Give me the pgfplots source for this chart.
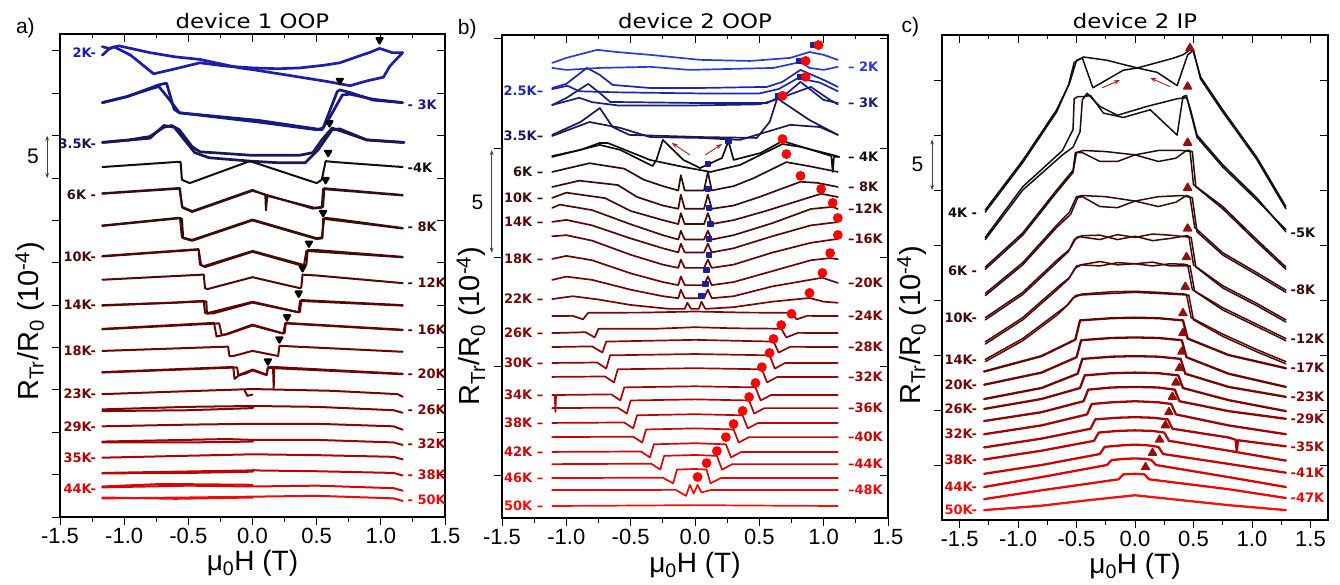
\documentclass[border=0pt]{standalone}
\usepackage{fontspec}
\setmainfont{Liberation Sans}
\newfontfamily\dv{DejaVu Sans}
\usepackage{graphicx}
\usepackage{pgfplots}
\pgfplotsset{compat=1.18}
\usetikzlibrary{arrows.meta}

% colours, cold (blue) to hot (red)
\definecolor{a2}{RGB}{30,30,170}\definecolor{a3}{RGB}{25,25,130}\definecolor{a35}{RGB}{25,25,90}
\definecolor{a4}{RGB}{15,15,15}\definecolor{a6}{RGB}{50,15,15}\definecolor{a8}{RGB}{60,12,12}
\definecolor{a10}{RGB}{72,10,10}\definecolor{a12}{RGB}{80,8,8}\definecolor{a14}{RGB}{90,6,6}
\definecolor{a16}{RGB}{98,5,5}\definecolor{a18}{RGB}{104,5,5}\definecolor{a20}{RGB}{110,5,5}
\definecolor{a23}{RGB}{118,5,5}\definecolor{a26}{RGB}{128,5,5}\definecolor{a29}{RGB}{140,5,5}
\definecolor{a32}{RGB}{155,5,5}\definecolor{a35r}{RGB}{170,5,5}\definecolor{a38}{RGB}{190,5,5}
\definecolor{a44}{RGB}{215,5,5}\definecolor{a50}{RGB}{238,10,10}

\definecolor{b2}{RGB}{40,60,220}\definecolor{b25}{RGB}{30,40,165}\definecolor{b3}{RGB}{25,30,125}
\definecolor{b35}{RGB}{25,25,85}\definecolor{b4}{RGB}{15,15,15}\definecolor{b6}{RGB}{45,15,15}
\definecolor{b8}{RGB}{58,12,12}\definecolor{b10}{RGB}{70,10,10}\definecolor{b12}{RGB}{80,8,8}
\definecolor{b14}{RGB}{90,6,6}\definecolor{b16}{RGB}{98,5,5}\definecolor{b18}{RGB}{105,5,5}
\definecolor{b20}{RGB}{112,5,5}\definecolor{b22}{RGB}{118,5,5}\definecolor{b24}{RGB}{125,5,5}
\definecolor{b26}{RGB}{132,5,5}\definecolor{b28}{RGB}{140,5,5}\definecolor{b30}{RGB}{148,5,5}
\definecolor{b32}{RGB}{156,5,5}\definecolor{b34}{RGB}{166,5,5}\definecolor{b36}{RGB}{176,5,5}
\definecolor{b38}{RGB}{188,5,5}\definecolor{b40}{RGB}{198,5,5}\definecolor{b42}{RGB}{210,5,5}
\definecolor{b44}{RGB}{220,5,5}\definecolor{b46}{RGB}{230,8,8}\definecolor{b48}{RGB}{238,10,10}
\definecolor{b50}{RGB}{246,15,15}

\definecolor{c4}{RGB}{15,15,15}\definecolor{c5}{RGB}{25,12,12}\definecolor{c6}{RGB}{40,10,10}
\definecolor{c8}{RGB}{52,10,10}\definecolor{c10}{RGB}{65,8,8}\definecolor{c12}{RGB}{75,8,8}
\definecolor{c14}{RGB}{88,6,6}\definecolor{c17}{RGB}{100,5,5}\definecolor{c20}{RGB}{110,5,5}
\definecolor{c23}{RGB}{120,5,5}\definecolor{c26}{RGB}{130,5,5}\definecolor{c29}{RGB}{140,5,5}
\definecolor{c32}{RGB}{155,5,5}\definecolor{c35}{RGB}{170,5,5}\definecolor{c38}{RGB}{185,5,5}
\definecolor{c41}{RGB}{200,5,5}\definecolor{c44}{RGB}{215,5,5}\definecolor{c47}{RGB}{232,8,8}
\definecolor{c50}{RGB}{245,15,15}
\definecolor{mk}{RGB}{150,15,15}\definecolor{sq}{RGB}{30,30,150}\definecolor{arr}{RGB}{185,25,25}

\newcommand{\tlf}{\dv\bfseries\fontsize{13}{13}\selectfont}
\newcommand{\lft}[4]{\node[anchor=east,text=#2,font=\tlf,inner sep=1pt] at (axis cs:#1,#3) {#4};}
\newcommand{\rgt}[4]{\node[anchor=west,text=#2,font=\tlf,inner sep=1pt] at (axis cs:#1,#3) {#4};}
\newcommand{\ylab}{R\textsubscript{Tr}/R\textsubscript{0} (10\textsuperscript{-4})}
\newcommand{\ttl}[1]{\scalebox{1.14}[1]{\dv\fontsize{20}{20}\selectfont #1}}

\pgfplotsset{
  base/.style={scale only axis, clip=false,
    axis line style={line width=1.1pt},
    every tick/.style={line width=0.9pt, black},
    major tick length=8pt, minor tick length=4.5pt,
    xtick={-1.5,-1,-0.5,0,0.5,1,1.5}, minor x tick num=1,
    xticklabels={-1.5,-1.0,-0.5,0.0,0.5,1.0,1.5},
    yticklabels={},
    tick label style={font=\fontsize{22}{22}\selectfont},
    every axis plot/.append style={line width=2.0pt, line join=round, line cap=round},
  },
  front/.style={base, xtick pos=left, ytick pos=left, tick align=outside},
  back/.style={base, xtick pos=right, ytick pos=right, tick align=inside, xticklabels={}},
}

\begin{document}
\begin{tikzpicture}
\useasboundingbox (-60pt,-67pt) rectangle (1280pt,517pt);

%% ---------------- panel a ----------------
\begin{axis}[back, at={(0pt,0pt)}, anchor=south west, width=385pt, height=483pt,
  xmin=-1.5, xmax=1.5, ymin=0, ymax=57, ytick={0,5,...,55}]
\end{axis}
\begin{axis}[front, at={(0pt,0pt)}, anchor=south west, width=385pt, height=483pt,
  xmin=-1.5, xmax=1.5, ymin=0, ymax=57, ytick={0,5,...,55}]
\addplot[a2, line width=2.7pt] coordinates {(-1.17,54.5) (-1.12,55.2) (-1.08,55.5) (-0.95,54.5) (-0.77,52.3) (-0.60,52.9) (-0.41,53.6) (-0.2,53.2) (0.0,53.0) (0.2,52.9) (0.37,53.0) (0.55,53.3) (0.68,53.6) (0.85,54.5) (0.91,54.8) (0.99,55.3) (1.09,54.8) (1.17,54.8)};
\addplot[a2, line width=2.7pt] coordinates {(1.17,54.8) (1.07,53.2) (1.02,51.9) (0.90,51.5) (0.76,50.9) (0.58,51.4) (0.29,52.1) (0.0,52.8) (-0.10,53.0) (-0.41,54.0) (-0.6,54.3) (-0.80,54.8) (-1.04,55.6) (-1.12,55.3) (-1.17,55.5)};
\addplot[a3, line width=2.7pt] coordinates {(-1.17,48.9) (-0.98,49.6) (-0.80,50.6) (-0.73,51.0) (-0.67,51.2) (-0.61,48.1) (-0.57,47.7) (0.05,46.6) (0.50,45.7) (0.55,45.9) (0.66,50.2) (0.68,50.4) (0.76,50.1) (0.94,49.2) (1.17,48.9)};
\addplot[a3, line width=2.7pt] coordinates {(1.17,48.9) (0.94,49.3) (0.76,49.9) (0.70,49.8) (0.60,47.1) (0.54,45.7) (0.05,46.8) (-0.57,47.7) (-0.66,49.5) (-0.73,50.8) (-0.80,50.5) (-0.98,49.6) (-1.17,48.9)};
\addplot[a35, line width=2.7pt] coordinates {(-1.17,44.2) (-0.96,44.5) (-0.80,44.9) (-0.69,46.0) (-0.63,46.2) (-0.57,45.7) (-0.47,43.7) (-0.41,43.1) (-0.02,42.7) (0.37,42.7) (0.47,43.0) (0.54,44.5) (0.62,45.9) (0.66,45.7) (0.89,44.5) (1.18,44.2)};
\addplot[a35, line width=2.7pt] coordinates {(1.18,44.2) (0.89,44.5) (0.68,45.8) (0.62,45.7) (0.51,43.3) (0.41,41.8) (0.21,41.8) (-0.02,42.0) (-0.34,42.4) (-0.45,43.0) (-0.53,44.5) (-0.61,46.0) (-0.69,46.2) (-0.80,44.7) (-1.17,44.2)};
\addplot[a4] coordinates {(-1.17,41.3) (-0.59,41.9) (-0.56,41.9) (-0.55,39.8) (-0.49,39.4) (-0.02,42.0) (0.50,39.4) (0.54,39.8) (0.57,42.0) (0.63,41.9) (1.17,41.3)};
\addplot[a6] coordinates {(-1.17,38.2) (-0.59,38.8) (-0.565,38.8) (-0.55,36.6) (-0.47,36.1) (0.0,38.6) (0.10,38.0) (0.105,36.2) (0.115,37.9) (0.48,36.5) (0.55,36.6) (0.56,38.8) (0.63,38.7) (1.17,38.0)};
\addplot[a6] coordinates {(-1.17,38.15) (-0.57,38.75) (-0.545,36.5) (-0.47,36.0) (0.0,38.5) (0.47,36.4) (0.54,36.5) (0.55,38.7) (1.17,37.95)};
\addplot[a8] coordinates {(-1.17,34.4) (-0.58,35.3) (-0.565,35.3) (-0.55,33.0) (-0.47,32.7) (0.0,35.1) (0.50,32.9) (0.54,33.0) (0.56,35.3) (0.63,35.2) (1.17,34.1)};
\addplot[a8] coordinates {(-1.17,34.35) (-0.57,35.25) (-0.55,35.2) (-0.54,32.9) (-0.47,32.6) (0.0,35.0) (0.50,32.8) (0.545,32.9) (0.55,35.2) (1.17,34.05)};
\addplot[a10] coordinates {(-1.17,30.8) (-0.43,31.6) (-0.42,31.6) (-0.41,29.8) (-0.38,29.6) (0.0,31.4) (0.41,29.7) (0.42,29.8) (0.43,31.5) (0.5,31.5) (1.17,30.7)};
\addplot[a10] coordinates {(-1.17,30.75) (-0.42,31.55) (-0.40,29.7) (-0.37,29.5) (0.0,31.3) (0.40,29.6) (0.42,31.4) (1.17,30.65)};
\addplot[a12] coordinates {(-1.17,28.0) (-0.39,28.6) (-0.38,28.6) (-0.37,27.0) (-0.35,26.9) (0.0,28.3) (0.37,27.0) (0.38,27.1) (0.39,28.6) (0.5,28.5) (1.17,27.6)};
\addplot[a14] coordinates {(-1.17,25.0) (-0.6,25.3) (-0.39,25.5) (-0.38,25.5) (-0.37,24.1) (-0.34,24.1) (0.0,25.4) (0.35,24.2) (0.37,24.2) (0.38,25.6) (1.17,25.0)};
\addplot[a14] coordinates {(-1.17,24.95) (-0.36,25.45) (-0.355,24.0) (-0.3,24.05) (0.0,25.3) (0.36,24.15) (0.37,25.5) (1.17,24.95)};
\addplot[a16] coordinates {(-1.17,22.2) (-0.31,22.9) (-0.30,22.9) (-0.28,21.3) (-0.22,21.5) (0.0,22.7) (0.23,21.7) (0.25,21.7) (0.26,22.9) (1.17,22.1)};
\addplot[a16] coordinates {(-1.17,22.15) (-0.26,22.85) (-0.24,21.5) (-0.2,21.55) (0.0,22.6) (0.24,21.65) (0.255,22.85) (1.17,22.05)};
\addplot[a18] coordinates {(-1.17,19.6) (-0.20,20.1) (-0.19,20.1) (-0.18,19.0) (-0.15,19.0) (0.0,19.6) (0.20,19.0) (0.21,20.2) (1.17,19.5)};
\addplot[a20] coordinates {(-1.17,17.1) (-0.16,17.7) (-0.15,17.7) (-0.14,16.3) (-0.10,16.8) (0.0,17.4) (0.11,16.8) (0.12,17.7) (0.16,17.7) (0.165,15.2) (0.17,17.7) (1.17,16.9)};
\addplot[a20] coordinates {(-1.17,17.05) (-0.12,17.65) (-0.11,16.7) (-0.05,16.95) (0.0,17.3) (0.11,16.75) (0.12,17.6) (1.17,16.85)};
\addplot[a23] coordinates {(-1.17,14.5) (-0.6,14.8) (0.0,15.1) (0.6,14.9) (1.0,14.6) (1.13,14.5) (1.17,14.2)};
\addplot[a23] coordinates {(-0.06,14.9) (-0.04,14.3) (0.0,14.45)};
\addplot[a26] coordinates {(-1.17,12.7) (-0.5,13.0) (0.0,13.1) (0.5,13.0) (1.1,12.6) (1.17,12.3)};
\addplot[a26] coordinates {(-1.17,12.5) (-0.5,12.6) (0.0,12.85) (0.01,13.1)};
\addplot[a29] coordinates {(-1.17,10.7) (-0.5,10.9) (0.0,11.0) (0.5,11.0) (1.1,10.7) (1.17,10.3)};
\addplot[a32] coordinates {(-1.17,8.9) (-0.2,9.2) (0.0,9.1) (0.5,9.1) (1.1,8.8) (1.17,8.5)};
\addplot[a32] coordinates {(-1.17,8.8) (-0.5,8.8) (0.0,8.9) (0.01,9.1)};
\addplot[a35r] coordinates {(-1.17,7.0) (0.0,7.4) (0.5,7.3) (1.1,7.1) (1.17,6.8)};
\addplot[a38] coordinates {(-1.17,5.2) (0.0,5.5) (0.5,5.4) (1.1,5.2) (1.17,4.9)};
\addplot[a38] coordinates {(-1.17,5.15) (-0.5,5.2) (0.0,5.35) (0.01,5.6)};
\addplot[a44] coordinates {(-1.17,3.5) (-0.5,3.7) (0,3.6) (0.5,3.7) (1.1,3.4) (1.17,3.1)};
\addplot[a44] coordinates {(-1.17,3.6) (-0.7,3.9) (0,3.8)};
\addplot[a50] coordinates {(-1.17,2.2) (-0.5,2.3) (0,2.4) (0.5,2.5) (1.1,2.2) (1.17,1.9)};
\addplot[a50] coordinates {(-1.17,2.3) (-0.6,2.15) (0,2.3)};
% switching fields
\addplot[only marks, mark=triangle*, mark size=3.6pt, black, mark options={rotate=180}] coordinates {(0.99,56.3) (0.68,51.5) (0.60,46.5) (0.59,43.0) (0.57,39.8) (0.55,35.9) (0.44,32.3) (0.39,29.4) (0.36,26.4) (0.27,23.6) (0.21,21.0) (0.12,18.4)};
\lft{-1.21}{a2}{54.8}{2K-}\lft{-1.21}{a35}{44.0}{3.5K-}\lft{-1.21}{a6}{38.0}{6K -}
\lft{-1.21}{a10}{30.7}{10K-}\lft{-1.21}{a14}{25.0}{14K-}\lft{-1.21}{a18}{19.6}{18K-}
\lft{-1.21}{a23}{14.5}{23K-}\lft{-1.21}{a29}{10.7}{29K-}\lft{-1.21}{a35r}{7.0}{35K-}
\lft{-1.21}{a44}{3.3}{44K-}
\rgt{1.20}{a3}{48.6}{- 3K}\rgt{1.20}{a4}{41.2}{-4K}\rgt{1.20}{a8}{34.2}{- 8K}
\rgt{1.20}{a12}{27.6}{- 12K}\rgt{1.20}{a16}{22.1}{- 16K}\rgt{1.20}{a20}{16.9}{- 20K}
\rgt{1.20}{a26}{12.6}{- 26K}\rgt{1.20}{a32}{8.7}{- 32K}\rgt{1.20}{a38}{5.0}{- 38K}
\rgt{1.20}{a50}{2.0}{- 50K}
\draw[{Stealth[length=5pt]}-{Stealth[length=5pt]}, line width=0.8pt, black!75] (axis cs:-1.60,40) -- (axis cs:-1.60,45);
\node[font=\fontsize{21}{21}\selectfont] at (axis cs:-1.71,42.5) {5};
\node[rotate=90, font=\fontsize{29}{29}\selectfont] at (axis cs:-1.735,23.1) {\ylab};
\node[font=\fontsize{28}{28}\selectfont] at (axis cs:0,-5.5) {μ\textsubscript{0}H (T)};
\node[anchor=base] at (axis cs:0,57.6) {\ttl{device 1 OOP}};
\node[font=\fontsize{21}{21}\selectfont, anchor=base] at (axis cs:-1.77,57.1) {a)};
\end{axis}

%% ---------------- panel b ----------------
\begin{axis}[back, at={(442pt,-1pt)}, anchor=south west, width=386pt, height=483pt,
  xmin=-1.5, xmax=1.5, ymin=-1.97, ymax=20.18, ytick={0,5,10,15,20}]
\end{axis}
\begin{axis}[front, at={(442pt,-1pt)}, anchor=south west, width=386pt, height=483pt,
  xmin=-1.5, xmax=1.5, ymin=-1.97, ymax=20.18, ytick={0,5,10,15,20},
  every axis plot/.append style={line width=1.7pt}]
\addplot[b2] coordinates {(-1.11,18.90) (-1.0,19.13) (-0.76,19.50) (-0.61,19.40) (-0.35,19.27) (0.04,19.04) (0.43,18.99) (0.74,19.13) (0.89,19.40) (1.0,19.27) (1.11,19.04)};
\addplot[b2] coordinates {(-1.11,18.67) (-1.0,18.58) (-0.74,18.67) (-0.35,18.72) (-0.04,18.58) (0.61,18.67) (0.82,18.94) (0.89,18.67) (1.0,18.58) (1.11,18.72)};
\addplot[b25] coordinates {(-1.11,17.75) (-1.0,17.94) (-0.84,18.67) (-0.74,18.35) (-0.64,17.89) (-0.35,17.75) (0.04,17.75) (0.56,17.80) (0.68,18.03) (0.82,18.58) (1.0,18.12) (1.11,17.80)};
\addplot[b25] coordinates {(-1.11,17.7) (-0.99,17.85) (-0.90,17.6) (-0.6,17.55) (0.04,17.5) (0.5,17.5) (0.65,17.7) (0.8,18.2) (0.97,18.0) (1.11,17.6)};
\addplot[b3] coordinates {(-1.11,16.97) (-1.0,17.29) (-0.83,17.94) (-0.74,17.52) (-0.66,17.11) (0.04,17.06) (0.56,17.06) (0.64,17.29) (0.68,17.34) (0.82,18.03) (1.0,17.20) (1.11,17.06)};
\addplot[b3] coordinates {(-1.11,16.97) (-0.9,17.3) (-0.8,17.1) (-0.6,16.95) (0.0,16.95) (0.5,17.0) (0.62,17.2) (0.9,17.8) (1.05,17.2) (1.11,17.0)};
\addplot[b35] coordinates {(-1.11,15.60) (-0.89,16.19) (-0.74,16.83) (-0.64,15.96) (-0.51,15.60) (0.04,15.50) (0.48,15.46) (0.58,16.19) (0.64,17.29) (0.68,17.11) (0.89,16.28) (1.11,15.60)};
\addplot[b35] coordinates {(-1.11,15.55) (-0.82,16.19) (-0.58,15.92) (-0.35,15.50) (0.04,15.46) (0.35,15.37) (0.74,16.06) (0.97,15.96) (1.11,15.60)};
\addplot[b4] coordinates {(-1.11,14.63) (-0.89,14.91) (-0.74,15.23) (-0.68,15.23) (-0.58,15.0) (-0.35,14.45) (-0.09,14.13) (0.12,13.90) (0.35,14.22) (0.68,15.18) (0.82,15.05) (1.07,14.68) (1.12,14.59)};
\addplot[b4] coordinates {(1.12,14.59) (1.08,14.59) (1.07,13.90) (1.06,14.63) (0.68,15.32) (0.51,14.77) (0.30,14.45) (0.26,15.32) (0.21,14.54) (0.04,14.08) (-0.09,14.45) (-0.25,15.37) (-0.30,14.45) (-0.33,14.17) (-0.58,14.91) (-0.74,15.14) (-1.11,14.59)};
\addplot[b6] coordinates {(-1.11,13.90) (-0.82,14.30) (-0.55,14.05) (-0.4,13.55) (-0.25,13.25) (-0.13,13.05) (-0.11,13.75) (-0.08,13.05) (0.0,13.05) (0.07,13.05) (0.10,13.90) (0.13,13.05) (0.3,13.25) (0.45,13.60) (0.71,14.35) (0.9,14.15) (1.11,13.90)};
\addplot[b8] coordinates {(-1.11,13.21) (-0.9,13.50) (-0.6,13.30) (-0.45,12.75) (-0.25,12.36) (-0.13,12.21) (-0.11,12.86) (-0.08,12.21) (0.0,12.21) (0.07,12.21) (0.10,12.86) (0.13,12.21) (0.3,12.36) (0.5,12.75) (0.82,13.45) (0.95,13.40) (1.11,13.21)};
\addplot[b10] coordinates {(-1.11,12.71) (-1.0,12.95) (-0.7,12.70) (-0.5,12.11) (-0.25,11.69) (-0.13,11.51) (-0.11,12.01) (-0.08,11.51) (0.0,11.51) (0.07,11.51) (0.10,12.01) (0.13,11.51) (0.3,11.69) (0.55,12.11) (0.98,12.90) (1.11,12.75)};
\addplot[b12] coordinates {(-1.11,12.25) (-1.05,12.40) (-0.8,12.15) (-0.5,11.50) (-0.25,11.0) (-0.13,10.80) (-0.11,11.20) (-0.08,10.80) (0.0,10.80) (0.07,10.80) (0.10,11.20) (0.13,10.80) (0.3,11.0) (0.6,11.55) (0.9,12.20) (1.07,12.30) (1.11,12.20)};
\addplot[b14] coordinates {(-1.11,11.61) (-1.0,11.70) (-0.8,11.45) (-0.5,10.85) (-0.25,10.40) (-0.13,10.21) (-0.11,10.61) (-0.08,10.21) (0.0,10.21) (0.07,10.21) (0.10,10.61) (0.13,10.21) (0.3,10.40) (0.6,10.95) (0.9,11.45) (1.11,11.60)};
\addplot[b16] coordinates {(-1.11,10.95) (-1.0,11.00) (-0.8,10.75) (-0.5,10.10) (-0.25,9.65) (-0.13,9.50) (-0.11,9.88) (-0.08,9.50) (0.0,9.50) (0.07,9.50) (0.10,9.88) (0.13,9.50) (0.3,9.65) (0.6,10.20) (0.9,10.65) (1.11,10.83)};
\addplot[b18] coordinates {(-1.11,9.91) (-1.0,10.05) (-0.8,9.85) (-0.5,9.25) (-0.25,8.85) (-0.13,8.71) (-0.11,9.11) (-0.08,8.71) (0.0,8.71) (0.07,8.71) (0.10,9.11) (0.13,8.71) (0.3,8.85) (0.6,9.35) (0.9,9.85) (1.05,9.95) (1.11,9.90)};
\addplot[b20] coordinates {(-1.11,8.95) (-1.0,9.10) (-0.8,8.95) (-0.5,8.50) (-0.25,8.20) (-0.13,8.11) (-0.11,8.50) (-0.08,8.11) (0.0,8.11) (0.07,8.11) (0.10,8.50) (0.13,8.11) (0.3,8.20) (0.6,8.65) (0.99,9.05) (1.11,8.81)};
\addplot[b22] coordinates {(-1.11,8.07) (-0.95,8.20) (-0.75,8.05) (-0.5,7.80) (-0.2,7.62) (-0.08,7.62) (-0.06,7.90) (-0.03,7.62) (0.0,7.62) (0.03,7.62) (0.05,7.95) (0.08,7.62) (0.3,7.70) (0.6,7.95) (0.89,8.12) (1.0,7.95) (1.11,7.90)};
\addplot[b24] coordinates {(-1.11,7.29) (-0.95,7.30) (-0.87,7.14) (-0.83,7.44) (-0.4,7.45) (0.0,7.50) (0.4,7.45) (0.75,7.44) (0.79,7.14) (0.87,7.30) (1.11,7.29)};
\addplot[b26] coordinates {(-1.11,6.51) (-0.85,6.55) (-0.78,6.31) (-0.75,6.71) (-0.3,6.71) (0.0,6.78) (0.3,6.73) (0.67,6.71) (0.71,6.31) (0.8,6.52) (1.11,6.51)};
\addplot[b28] coordinates {(-1.11,5.87) (-0.80,5.90) (-0.72,5.62) (-0.69,6.12) (0.0,6.20) (0.61,6.12) (0.65,5.62) (0.74,5.88) (1.11,5.87)};
\addplot[b30] coordinates {(-1.11,5.14) (-0.76,5.16) (-0.69,4.88) (-0.66,5.49) (0.0,5.55) (0.58,5.49) (0.62,4.88) (0.70,5.14) (1.11,5.14)};
\addplot[b32] coordinates {(-1.11,4.50) (-0.70,4.52) (-0.63,4.25) (-0.60,4.85) (0.0,4.90) (0.52,4.85) (0.56,4.25) (0.64,4.50) (1.11,4.50)};
\addplot[b34] coordinates {(-1.11,3.67) (-1.09,3.67) (-1.085,2.90) (-1.08,3.67) (-0.65,3.70) (-0.58,3.42) (-0.55,4.02) (0.0,4.07) (0.47,4.02) (0.51,3.42) (0.59,3.67) (1.11,3.67)};
\addplot[b36] coordinates {(-1.11,3.07) (-0.60,3.09) (-0.53,2.82) (-0.50,3.42) (0.0,3.47) (0.42,3.42) (0.46,2.82) (0.54,3.07) (1.11,3.07)};
\addplot[b38] coordinates {(-1.11,2.39) (-0.55,2.41) (-0.48,2.14) (-0.45,2.74) (0.0,2.79) (0.37,2.74) (0.41,2.14) (0.49,2.39) (1.11,2.39)};
\addplot[b40] coordinates {(-1.11,1.74) (-0.48,1.76) (-0.41,1.49) (-0.38,2.09) (0.0,2.14) (0.30,2.09) (0.34,1.49) (0.42,1.74) (1.11,1.74)};
\addplot[b42] coordinates {(-1.11,1.06) (-0.42,1.08) (-0.35,0.81) (-0.32,1.41) (0.0,1.46) (0.24,1.41) (0.28,0.81) (0.36,1.06) (1.11,1.06)};
\addplot[b44] coordinates {(-1.11,0.50) (-0.34,0.52) (-0.27,0.25) (-0.24,0.88) (0.0,0.92) (0.17,0.88) (0.21,0.25) (0.29,0.50) (1.11,0.50)};
\addplot[b46] coordinates {(-1.11,-0.14) (-0.25,-0.12) (-0.17,-0.38) (-0.14,0.25) (0.0,0.28) (0.09,0.25) (0.12,-0.38) (0.20,-0.14) (1.11,-0.14)};
\addplot[b48] coordinates {(-1.11,-0.69) (-0.15,-0.68) (-0.07,-0.95) (-0.04,-0.45) (-0.01,-0.85) (0.02,-0.45) (0.05,-0.80) (0.12,-0.69) (1.11,-0.69)};
\addplot[b50] coordinates {(-1.11,-1.42) (-0.5,-1.40) (0.0,-1.38) (0.5,-1.40) (1.11,-1.42)};
% markers
\addplot[only marks, mark=square*, mark size=2.4pt, sq] coordinates {(0.92,19.72) (0.81,18.99) (0.82,18.26) (0.65,17.39) (0.26,15.32) (0.10,14.27) (0.10,13.12) (0.11,12.25) (0.12,11.51) (0.11,10.83) (0.11,10.09) (0.09,9.40) (0.08,8.76) (0.05,8.21)};
\addplot[only marks, mark=*, mark size=4.0pt, red] coordinates {(0.96,19.72) (0.86,18.99) (0.86,18.26) (0.68,17.39) (0.68,15.41) (0.71,14.72) (0.82,13.72) (0.98,13.12) (1.07,12.48) (1.11,11.79) (1.11,11.01) (1.05,10.18) (0.99,9.27) (0.89,8.35) (0.75,7.39) (0.67,6.88) (0.61,6.24) (0.58,5.60) (0.52,4.95) (0.47,4.22) (0.42,3.58) (0.37,2.94) (0.30,2.34) (0.24,1.74) (0.17,1.10) (0.09,0.55) (0.02,-0.09)};
\draw[-{Stealth[length=6pt]}, arr, line width=0.9pt] (axis cs:-0.04,14.68) -- (axis cs:-0.18,15.23);
\draw[-{Stealth[length=6pt]}, arr, line width=0.9pt] (axis cs:0.08,14.68) -- (axis cs:0.21,15.18);
\lft{-1.17}{b25}{17.61}{2.5K–}\lft{-1.17}{b35}{15.55}{3.5K–}\lft{-1.17}{b6}{13.90}{6K –}
\lft{-1.17}{b10}{12.71}{10K –}\lft{-1.17}{b14}{11.61}{14K –}\lft{-1.17}{b18}{9.91}{18K –}
\lft{-1.17}{b22}{8.07}{22K –}\lft{-1.17}{b26}{6.51}{26K –}\lft{-1.17}{b30}{5.14}{30K –}
\lft{-1.17}{b34}{3.67}{34K –}\lft{-1.17}{b38}{2.39}{38K –}\lft{-1.17}{b42}{1.06}{42K –}
\lft{-1.17}{b46}{-0.14}{46K –}\lft{-1.17}{b50}{-1.42}{50K –}
\rgt{1.18}{b2}{18.72}{– 2K}\rgt{1.18}{b3}{17.06}{– 3K}\rgt{1.18}{b4}{14.59}{– 4K}
\rgt{1.18}{b8}{13.21}{– 8K}\rgt{1.18}{b12}{12.20}{–12K}\rgt{1.18}{b16}{10.83}{–16K}
\rgt{1.18}{b20}{8.81}{–20K}\rgt{1.18}{b24}{7.29}{–24K}\rgt{1.18}{b28}{5.87}{–28K}
\rgt{1.18}{b32}{4.50}{–32K}\rgt{1.18}{b36}{3.07}{–36K}\rgt{1.18}{b40}{1.74}{–40K}
\rgt{1.18}{b44}{0.50}{–44K}\rgt{1.18}{b48}{-0.69}{–48K}
\draw[{Stealth[length=5pt]}-{Stealth[length=5pt]}, line width=0.8pt, black!75] (axis cs:-1.58,10.2) -- (axis cs:-1.58,14.9);
\node[font=\fontsize{21}{21}\selectfont] at (axis cs:-1.69,12.5) {5};
\node[rotate=90, font=\fontsize{29}{29}\selectfont] at (axis cs:-1.74,6.83) {\ylab};
\node[font=\fontsize{28}{28}\selectfont] at (axis cs:0,-4.15) {μ\textsubscript{0}H (T)};
\node[anchor=base] at (axis cs:0,20.5) {\ttl{device 2 OOP}};
\node[font=\fontsize{21}{21}\selectfont, anchor=base] at (axis cs:-1.77,20.2) {b)};
\end{axis}

%% ---------------- panel c ----------------
\begin{axis}[back, at={(882pt,-3pt)}, anchor=south west, width=386pt, height=485pt,
  xmin=-1.65, xmax=1.65, ymin=0, ymax=44.1, ytick={5,10,...,40}]
\end{axis}
\begin{axis}[front, at={(882pt,-3pt)}, anchor=south west, width=386pt, height=485pt,
  xmin=-1.65, xmax=1.65, ymin=0, ymax=44.1, ytick={5,10,...,40},
  every axis plot/.append style={line width=1.5pt}]
\addplot[c4] coordinates {(-1.28,28.2) (-0.96,32.7) (-0.67,37.3) (-0.56,39.7) (-0.50,41.8) (-0.45,42.0) (-0.36,39.3) (-0.10,40.9) (0.02,41.1) (0.33,42.0) (0.41,42.3) (0.49,42.9) (0.56,40.3) (0.75,37.3) (1.04,33.0) (1.29,28.5)};
\addplot[c4] coordinates {(1.29,28.3) (1.04,32.8) (0.75,37.1) (0.56,40.1) (0.50,42.7) (0.45,42.3) (0.36,39.5) (0.19,40.7) (0.02,41.1) (-0.24,41.8) (-0.44,42.1) (-0.52,41.6) (-0.57,39.5) (-0.67,37.1) (-0.96,32.5) (-1.28,28.0)};
\addplot[c5] coordinates {(-1.28,25.7) (-0.96,30.3) (-0.62,33.6) (-0.53,35.5) (-0.52,38.3) (-0.49,38.5) (-0.44,38.5) (-0.38,38.6) (-0.27,37.0) (-0.10,36.6) (0.13,37.3) (0.36,35.0) (0.41,38.5) (0.44,38.6) (0.47,37.3) (0.53,34.8) (0.75,32.1) (1.04,29.1) (1.29,26.4)};
\addplot[c5] coordinates {(1.29,26.2) (1.04,29.3) (0.75,32.3) (0.53,35.0) (0.47,37.5) (0.44,38.4) (0.36,38.3) (0.1,37.6) (-0.15,36.8) (-0.30,37.6) (-0.41,38.8) (-0.45,38.2) (-0.47,35.3) (-0.53,33.9) (-0.62,33.2) (-0.96,30.0) (-1.28,25.5)};
\addplot[c6] coordinates {(-1.28,23.0) (-0.96,26.1) (-0.67,30.0) (-0.53,31.8) (-0.51,33.4) (-0.44,33.6) (-0.25,33.5) (0.0,33.2) (0.2,32.6) (0.35,32.9) (0.44,33.6) (0.47,33.6) (0.50,30.5) (0.75,28.5) (1.04,25.5) (1.29,23.0)};
\addplot[c6] coordinates {(1.29,22.8) (1.04,25.3) (0.75,28.3) (0.52,30.3) (0.49,33.5) (0.40,33.6) (0.2,33.6) (0.0,33.2) (-0.15,32.6) (-0.3,32.6) (-0.45,33.4) (-0.50,33.4) (-0.53,31.6) (-0.67,29.8) (-0.96,25.9) (-1.28,22.8)};
\addplot[c8] coordinates {(-1.28,20.6) (-0.96,23.4) (-0.67,26.8) (-0.56,28.0) (-0.50,29.4) (-0.45,29.5) (-0.25,29.4) (0.0,29.0) (0.2,28.5) (0.35,28.9) (0.44,29.5) (0.47,29.4) (0.51,26.6) (0.75,24.3) (1.04,22.5) (1.29,20.9)};
\addplot[c8] coordinates {(1.29,20.7) (1.04,22.3) (0.75,24.1) (0.53,26.2) (0.49,29.3) (0.40,29.5) (0.2,29.4) (0.0,29.0) (-0.15,28.4) (-0.3,28.5) (-0.45,29.4) (-0.49,29.3) (-0.55,27.8) (-0.67,26.6) (-0.96,23.2) (-1.28,20.4)};
\addplot[c10] coordinates {(-1.28,18.4) (-0.96,20.7) (-0.67,23.6) (-0.56,24.6) (-0.50,25.7) (-0.45,25.85) (-0.3,25.9) (-0.15,25.5) (0.0,25.8) (0.15,25.4) (0.3,25.6) (0.44,25.85) (0.46,25.8) (0.50,23.2) (0.75,21.3) (1.04,19.7) (1.29,18.2)};
\addplot[c10] coordinates {(1.29,18.0) (1.04,19.5) (0.75,21.1) (0.52,23.0) (0.48,25.7) (0.3,25.9) (0.15,26.0) (0.0,25.7) (-0.15,25.95) (-0.3,25.5) (-0.47,25.75) (-0.52,25.5) (-0.57,24.4) (-0.67,23.4) (-0.96,20.5) (-1.28,18.2)};
\addplot[c12] coordinates {(-1.28,16.2) (-0.96,18.4) (-0.67,21.1) (-0.56,22.05) (-0.50,23.1) (-0.44,23.25) (-0.3,23.5) (-0.15,23.2) (0.0,23.3) (0.15,23.1) (0.3,23.3) (0.43,23.25) (0.45,23.2) (0.49,20.95) (0.75,19.3) (1.04,17.8) (1.29,16.5)};
\addplot[c12] coordinates {(1.29,16.3) (1.04,17.6) (0.75,19.1) (0.51,20.8) (0.47,23.1) (0.3,23.1) (0.15,23.45) (0.0,23.3) (-0.15,23.4) (-0.3,23.1) (-0.46,23.2) (-0.51,22.9) (-0.57,21.9) (-0.67,20.9) (-0.96,18.2) (-1.28,16.0)};
\addplot[c14] coordinates {(-1.28,14.6) (-0.96,16.5) (-0.67,18.8) (-0.57,19.6) (-0.51,20.4) (-0.45,20.55) (-0.2,20.75) (0.0,20.8) (0.2,20.7) (0.42,20.55) (0.44,20.5) (0.48,18.4) (0.75,16.9) (1.04,15.5) (1.29,14.4)};
\addplot[c14] coordinates {(1.29,14.2) (1.04,15.3) (0.75,16.7) (0.50,18.2) (0.46,20.45) (0.2,20.6) (0.0,20.7) (-0.2,20.6) (-0.47,20.45) (-0.53,20.2) (-0.59,19.4) (-0.67,18.6) (-0.96,16.3) (-1.28,14.4)};
\addplot[c17, line width=2.3pt] coordinates {(-1.29,13.5) (-0.8,14.9) (-0.51,16.4) (-0.47,18.15) (-0.2,18.35) (0.0,18.4) (0.2,18.35) (0.41,18.15) (0.45,16.5) (0.8,15.0) (1.29,13.8)};
\addplot[c20, line width=2.3pt] coordinates {(-1.29,12.3) (-0.8,13.4) (-0.50,14.8) (-0.46,16.35) (-0.2,16.55) (0.0,16.6) (0.2,16.55) (0.40,16.35) (0.44,14.8) (0.8,13.3) (1.29,12.1)};
\addplot[c23, line width=2.3pt] coordinates {(-1.29,11.0) (-0.8,12.0) (-0.49,13.3) (-0.45,14.65) (-0.2,14.85) (0.0,14.9) (0.2,14.85) (0.39,14.65) (0.43,13.3) (0.8,12.1) (1.29,11.2)};
\addplot[c26, line width=2.3pt] coordinates {(-1.29,10.1) (-0.8,11.0) (-0.47,12.0) (-0.43,13.15) (-0.2,13.35) (0,13.4) (0.2,13.35) (0.37,13.15) (0.41,12.0) (0.8,10.9) (1.29,9.9)};
\addplot[c29, line width=2.3pt] coordinates {(-1.29,9.0) (-0.8,9.8) (-0.44,10.8) (-0.40,11.85) (-0.2,12.05) (0,12.1) (0.2,12.05) (0.34,11.85) (0.38,10.8) (0.8,9.9) (1.29,9.2)};
\addplot[c32, line width=2.3pt] coordinates {(-1.29,7.8) (-0.8,8.6) (-0.41,9.6) (-0.37,10.55) (-0.2,10.7) (0,10.8) (0.2,10.7) (0.31,10.55) (0.35,9.6) (0.8,8.6) (1.29,7.8)};
\addplot[c35, line width=2.3pt] coordinates {(-1.29,6.6) (-0.8,7.4) (-0.38,8.3) (-0.34,9.15) (-0.15,9.3) (0,9.35) (0.15,9.3) (0.28,9.15) (0.32,8.3) (0.8,7.5) (0.86,7.3) (0.87,6.2) (0.88,7.25) (1.29,6.7)};
\addplot[c38, line width=2.3pt] coordinates {(-1.29,5.5) (-0.8,6.3) (-0.35,7.2) (-0.31,7.95) (-0.15,8.1) (0,8.15) (0.15,8.1) (0.25,7.95) (0.29,7.2) (0.8,6.3) (1.29,5.4)};
\addplot[c41, line width=2.3pt] coordinates {(-1.29,4.2) (-0.8,5.0) (-0.30,6.0) (-0.26,6.65) (-0.1,6.8) (0,6.85) (0.1,6.8) (0.20,6.65) (0.24,6.0) (0.8,5.1) (1.29,4.3)};
\addplot[c44, line width=2.3pt] coordinates {(-1.29,3.0) (-0.8,3.9) (-0.24,5.0) (-0.20,5.45) (-0.1,5.55) (0,5.6) (0.1,5.55) (0.14,5.45) (0.18,5.0) (0.8,3.9) (1.29,3.0)};
\addplot[c47, line width=2.3pt] coordinates {(-1.29,1.9) (-0.8,2.7) (-0.14,3.7) (-0.10,4.15) (0,4.2) (0.08,4.15) (0.12,3.7) (0.8,2.8) (1.29,2.0)};
\addplot[c50, line width=2.3pt] coordinates {(-1.29,0.9) (-0.8,1.3) (-0.4,1.8) (0,2.25) (0.4,1.8) (0.8,1.35) (1.29,0.9)};
\addplot[only marks, mark=triangle*, mark size=4.5pt, mk] coordinates {(0.47,42.9) (0.45,39.4) (0.45,34.3) (0.45,30.2) (0.45,26.5) (0.44,23.9) (0.43,21.2) (0.41,18.8) (0.41,17.0) (0.40,15.3) (0.38,13.8) (0.35,12.5) (0.32,11.2) (0.29,9.8) (0.26,8.6) (0.21,7.3) (0.15,6.1) (0.09,4.8)};
\draw[-{Stealth[length=6pt]}, arr, line width=0.9pt] (axis cs:-0.28,39.3) -- (axis cs:-0.13,40.0);
\draw[-{Stealth[length=6pt]}, arr, line width=0.9pt] (axis cs:0.30,39.4) -- (axis cs:0.13,40.2);
\lft{-1.34}{c4}{27.9}{4K -}\lft{-1.34}{c6}{22.7}{6K -}\lft{-1.34}{c10}{18.4}{10K-}
\lft{-1.34}{c14}{14.6}{14K-}\lft{-1.34}{c20}{12.3}{20K-}\lft{-1.34}{c26}{10.1}{26K-}
\lft{-1.34}{c32}{7.8}{32K-}\lft{-1.34}{c38}{5.5}{38K-}\lft{-1.34}{c44}{3.0}{44K-}
\lft{-1.34}{c50}{0.9}{50K-}
\rgt{1.32}{c5}{26.1}{-5K}\rgt{1.32}{c8}{20.9}{-8K}\rgt{1.32}{c12}{16.5}{-12K}
\rgt{1.32}{c17}{13.8}{-17K}\rgt{1.32}{c23}{11.2}{-23K}\rgt{1.32}{c29}{9.2}{-29K}
\rgt{1.32}{c35}{6.7}{-35K}\rgt{1.32}{c41}{4.3}{-41K}\rgt{1.32}{c47}{2.0}{-47K}
\draw[{Stealth[length=5pt]}-{Stealth[length=5pt]}, line width=0.8pt, black!75] (axis cs:-1.735,30.0) -- (axis cs:-1.735,34.6);
\node[font=\fontsize{21}{21}\selectfont] at (axis cs:-1.86,32.3) {5};
\node[rotate=90, font=\fontsize{29}{29}\selectfont] at (axis cs:-1.91,17.7) {\ylab};
\node[font=\fontsize{28}{28}\selectfont] at (axis cs:0,-4.2) {μ\textsubscript{0}H (T)};
\node[anchor=base] at (axis cs:0,44.7) {\ttl{device 2 IP}};
\node[font=\fontsize{21}{21}\selectfont, anchor=base] at (axis cs:-1.92,44.3) {c)};
\end{axis}
\end{tikzpicture}
\end{document}
